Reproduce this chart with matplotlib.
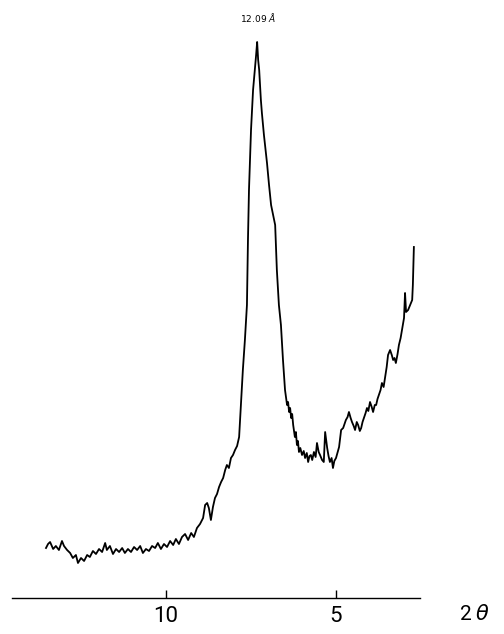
import matplotlib
matplotlib.use('Agg')
import matplotlib.pyplot as plt

# XRD trace (2-theta in degrees, intensity in arbitrary units)
two_theta = [13.53, 13.47, 13.41, 13.32, 13.24, 13.15, 13.06, 13.00, 12.91, 12.82,
             12.74, 12.65, 12.59, 12.50, 12.41, 12.32, 12.24, 12.15, 12.06, 11.97,
             11.88, 11.79, 11.74, 11.65, 11.56, 11.47, 11.38, 11.29, 11.21, 11.12,
             11.03, 10.94, 10.85, 10.76, 10.68, 10.59, 10.50, 10.41, 10.32, 10.24,
             10.15, 10.06, 9.97, 9.88, 9.79, 9.71, 9.62, 9.53, 9.44, 9.35,
             9.26, 9.18, 9.09, 9.00, 8.91, 8.85, 8.79, 8.74, 8.68, 8.62,
             8.56, 8.50, 8.44, 8.38, 8.32, 8.26, 8.21, 8.15, 8.09, 8.03,
             7.97, 7.91, 7.85, 7.79, 7.74, 7.68, 7.62, 7.59, 7.56, 7.50,
             7.44, 7.38, 7.35, 7.32, 7.29, 7.26, 7.21, 7.18, 7.12, 7.03,
             6.97, 6.91, 6.85, 6.79, 6.74, 6.68, 6.62, 6.56, 6.50, 6.44,
             6.41, 6.38, 6.35, 6.32, 6.29, 6.26, 6.21, 6.18, 6.15, 6.12,
             6.09, 6.05, 6.00, 5.95, 5.91, 5.86, 5.82, 5.78, 5.74, 5.70,
             5.65, 5.60, 5.56, 5.51, 5.47, 5.41, 5.36, 5.32, 5.26, 5.22,
             5.18, 5.13, 5.09, 5.05, 5.00, 4.95, 4.91, 4.85, 4.79, 4.75,
             4.71, 4.66, 4.62, 4.57, 4.53, 4.48, 4.44, 4.39, 4.35, 4.30,
             4.26, 4.22, 4.18, 4.13, 4.09, 4.05, 4.00, 3.95, 3.91, 3.86,
             3.82, 3.78, 3.74, 3.69, 3.65, 3.60, 3.56, 3.51, 3.47, 3.41,
             3.36, 3.32, 3.28, 3.24, 3.19, 3.15, 3.10, 3.06, 3.00, 2.97,
             2.94, 2.88, 2.82, 2.76, 2.74, 2.71]
intensity = [50, 54, 56, 49, 52, 48, 57, 52, 48, 45,
             40, 43, 35, 40, 37, 43, 41, 47, 44, 49,
             46, 55, 48, 52, 44, 49, 46, 50, 45, 49,
             46, 51, 48, 52, 45, 49, 47, 52, 50, 55,
             49, 54, 51, 57, 53, 59, 54, 61, 64, 58,
             65, 61, 70, 74, 80, 93, 95, 90, 78, 91,
             100, 104, 111, 116, 120, 128, 133, 130, 140, 143,
             148, 152, 161, 198, 228, 258, 293, 358, 408, 468,
             508, 531, 543, 556, 538, 528, 498, 485, 463, 435,
             413, 393, 383, 373, 328, 293, 273, 238, 208, 193,
             196, 186, 190, 180, 184, 173, 161, 166, 153, 157,
             146, 150, 143, 147, 140, 145, 136, 142, 143, 138,
             146, 141, 155, 146, 143, 138, 136, 166, 150, 142,
             136, 140, 130, 137, 140, 146, 151, 168, 170, 174,
             178, 181, 186, 180, 176, 172, 168, 176, 173, 167,
             170, 176, 180, 185, 190, 187, 196, 191, 186, 193,
             193, 199, 203, 208, 215, 211, 220, 231, 243, 248,
             243, 238, 240, 235, 244, 253, 260, 268, 280, 305,
             286, 288, 293, 298, 313, 351]

tick_values = [10, 5]
tick_labels = ['10', '5']
peak_label = '12.09 $\\AA$'

fig = plt.figure(figsize=(5.04, 6.34), dpi=100)
ax = fig.add_axes([12 / 504, 36 / 634, 408 / 504, 598 / 634])

ax.plot(two_theta, intensity, color='black', linewidth=1.3)

# reversed 2-theta axis, as on the chart recorder
ax.set_xlim(14.53, 2.53)
ax.set_ylim(0, 598)

for side in ['left', 'right', 'top']:
    ax.spines[side].set_visible(False)
ax.spines['bottom'].set_linewidth(1.0)
ax.set_yticks([])
ax.set_xticks(tick_values)
ax.set_xticklabels(tick_labels, fontsize=16, family=['Roboto', 'DejaVu Sans'])
ax.tick_params(axis='x', direction='in', length=6, width=1, pad=6)

ax.text(7.29, 580, peak_label, fontsize=6.5, ha='center', va='center')
fig.text(475 / 504, 1 - 614 / 634, '2 $\\it{\\theta}$', fontsize=15,
         ha='center', va='center', family=['Roboto', 'DejaVu Sans'])

fig.savefig('out.png', dpi=100, facecolor='white')
